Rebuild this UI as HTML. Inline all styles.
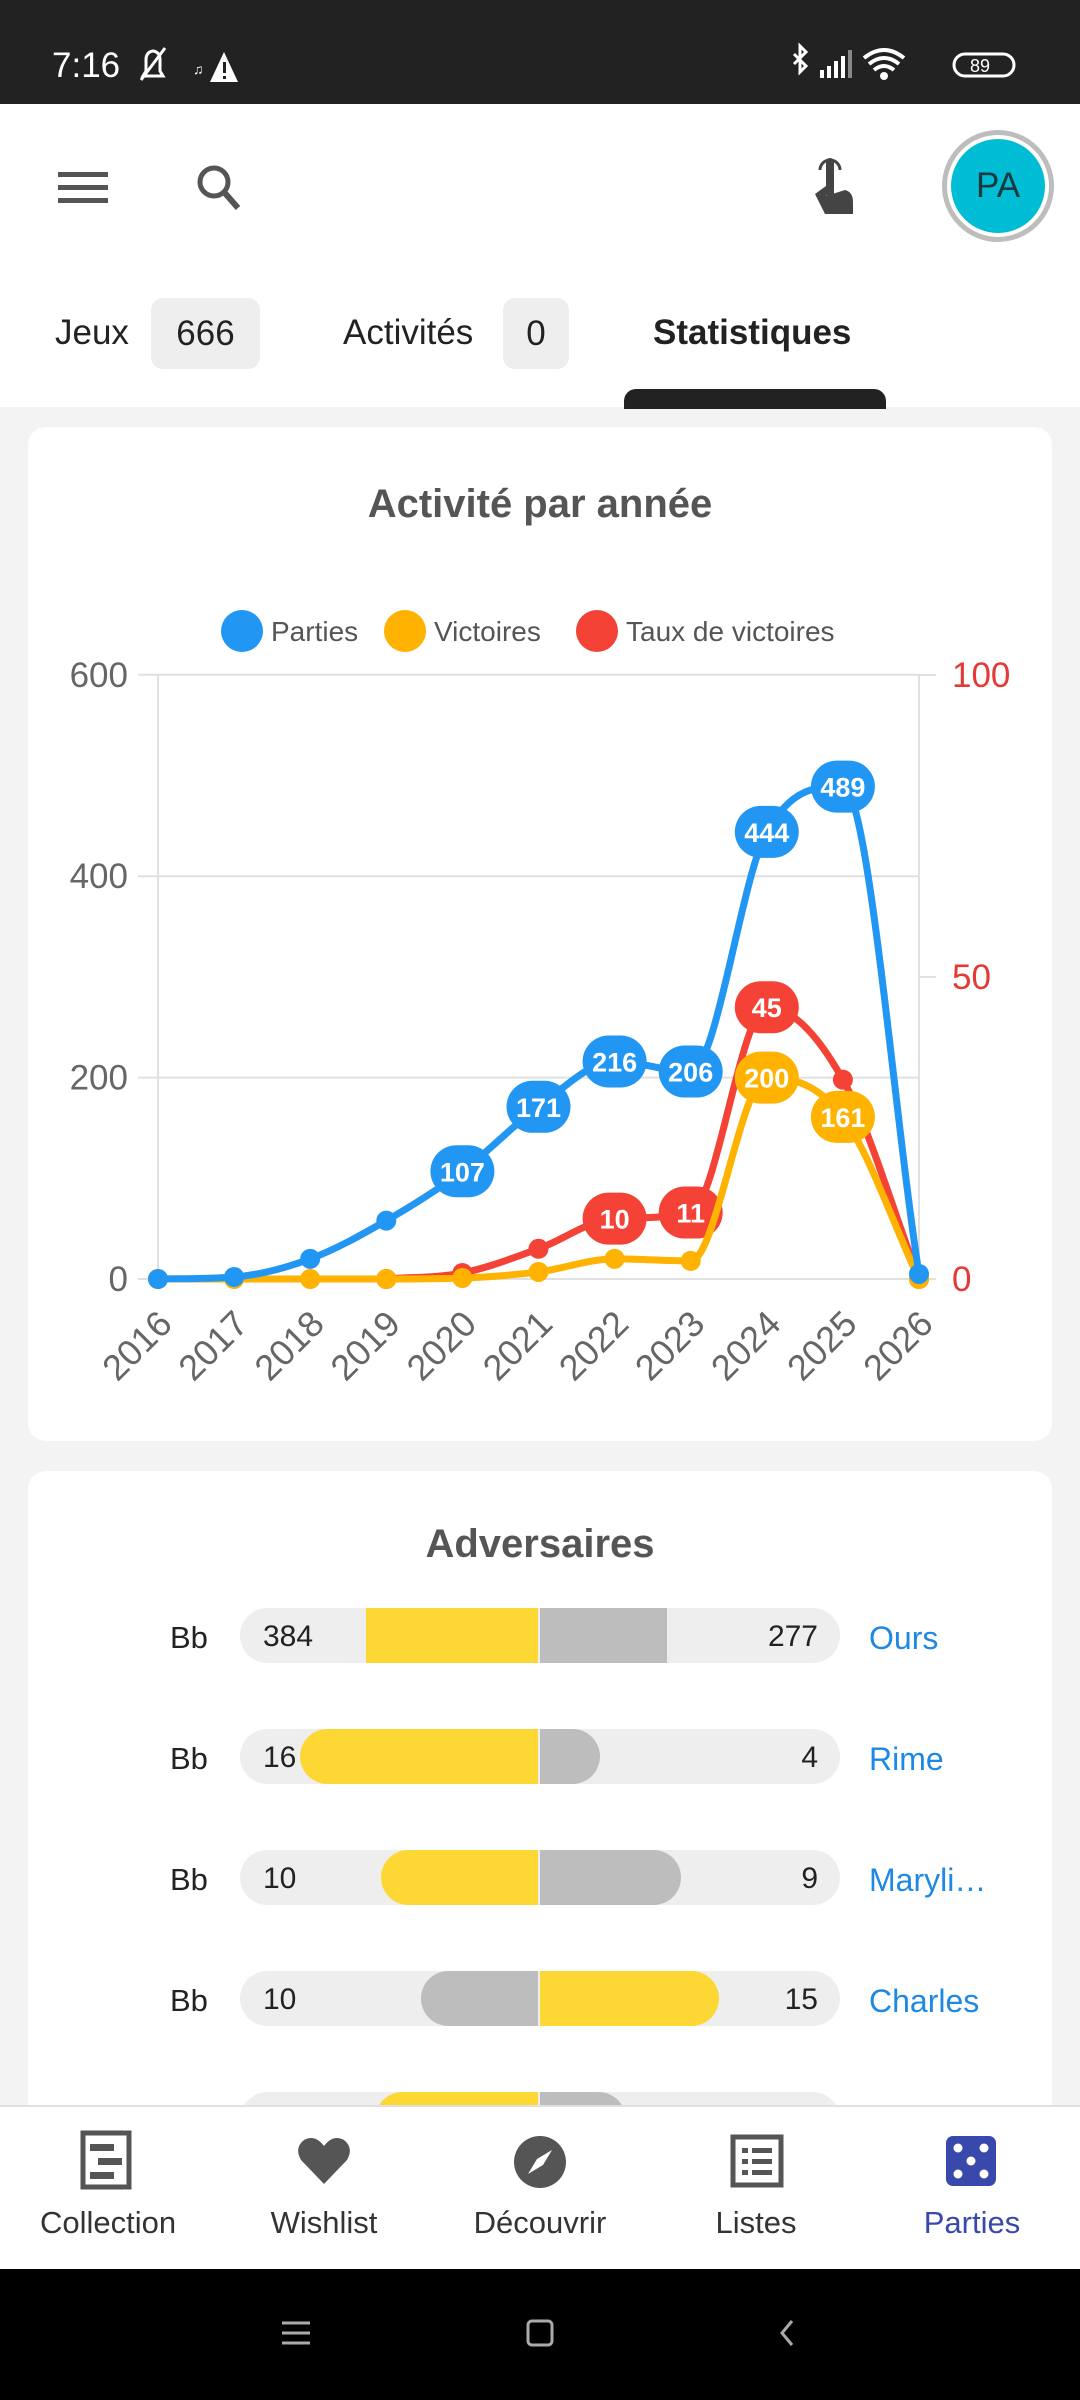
<!DOCTYPE html>
<html><head><meta charset="utf-8">
<style>
*{margin:0;padding:0;box-sizing:border-box}
body{width:1080px;height:2400px;overflow:hidden;background:#f3f3f3;font-family:"Liberation Sans",sans-serif;position:relative}
.abs{position:absolute}
.card{position:absolute;left:28px;width:1024px;background:#fff;border-radius:18px}
.chip{position:absolute;top:298px;height:71px;background:#eee;border-radius:12px;font-size:35px;color:#222;display:flex;align-items:center;justify-content:center}
.tab{position:absolute;top:313px;font-size:35px;color:#222}
.row{position:absolute;left:0;width:1080px;height:55px}
.row .bb{position:absolute;left:170px;top:12px;font-size:31px;color:#222}
.track{position:absolute;left:240px;width:600px;top:0;height:55px;background:#eee;border-radius:28px;overflow:hidden}
.seg{position:absolute;top:0;height:55px}
.y{background:#fdd835}.g{background:#bdbdbd}
.ln{position:absolute;left:263px;top:12px;font-size:30px;color:#222}
.rn{position:absolute;right:262px;top:12px;font-size:30px;color:#222}
.nm{position:absolute;left:869px;top:12px;font-size:32px;color:#1e88e5}
.nav{position:absolute;top:2205px;width:216px;text-align:center;font-size:31px;color:#333}
</style></head><body>
<div class="abs" style="left:0;top:0;width:1080px;height:104px;background:#222"></div>
<div class="abs" style="left:52px;top:46px;font-size:35px;color:#fff">7:16</div>
<svg class="abs" style="left:135px;top:44px" width="120" height="44" viewBox="0 0 120 44">
<path d="M8 32 L28 32 L25 27 L25 16 Q25 8 18 7 Q11 8 11 16 L11 27 Z" fill="none" stroke="#fff" stroke-width="3"/><line x1="6" y1="36" x2="30" y2="4" stroke="#fff" stroke-width="3"/>
<text x="58" y="30" fill="#fff" font-size="14">♫</text>
<path d="M115 38 L101 8 L87 38 Z" fill="#fff" transform="translate(-12,0)"/><rect x="88" y="18" width="3" height="11" fill="#222"/><rect x="88" y="32" width="3" height="3" fill="#222"/>
</svg>
<svg class="abs" style="left:780px;top:42px" width="240" height="44" viewBox="0 0 240 44">
<path d="M14 12 L26 24 L20 30 L20 4 L26 10 L14 22" fill="none" stroke="#fff" stroke-width="3"/>
<rect x="40" y="28" width="4" height="8" fill="#fff"/><rect x="47" y="24" width="4" height="12" fill="#fff"/><rect x="54" y="19" width="4" height="17" fill="#fff"/><rect x="61" y="14" width="4" height="22" fill="#fff"/><rect x="68" y="8" width="4" height="28" fill="#888"/>
<path d="M84 16 Q104 0 124 16 M89 22 Q104 10 119 22 M94 28 Q104 20 114 28" fill="none" stroke="#fff" stroke-width="4"/><circle cx="104" cy="34" r="4" fill="#fff"/>
<rect x="174" y="12" width="60" height="22" rx="11" fill="none" stroke="#fff" stroke-width="3"/><text x="190" y="30" font-size="18" fill="#fff">89</text>
</svg>
<div class="abs" style="left:0;top:104px;width:1080px;height:303px;background:#fff"></div>
<div class="abs" style="left:58px;top:172px;width:50px;height:5px;background:#555"></div>
<div class="abs" style="left:58px;top:185px;width:50px;height:5px;background:#555"></div>
<div class="abs" style="left:58px;top:198px;width:50px;height:5px;background:#555"></div>
<svg class="abs" style="left:192px;top:160px" width="56" height="56"><circle cx="22" cy="22" r="14" fill="none" stroke="#555" stroke-width="5"/><line x1="32" y1="32" x2="46" y2="48" stroke="#555" stroke-width="6"/></svg>
<svg class="abs" style="left:805px;top:150px" width="60" height="70"><rect x="21" y="8" width="8" height="40" rx="4" fill="#444"/><path d="M10 44 L21 36 L21 46 L40 40 Q48 42 48 52 L48 64 L20 64 Z" fill="#444"/><path d="M15 20 A10 10 0 0 1 35 20" fill="none" stroke="#444" stroke-width="3"/></svg>
<div class="abs" style="left:942px;top:130px;width:112px;height:112px;border-radius:50%;border:5px solid #bdbdbd;background:#fff"></div>
<div class="abs" style="left:951px;top:139px;width:94px;height:94px;border-radius:50%;background:#00bcd4;color:#1a3a40;font-size:35px;display:flex;align-items:center;justify-content:center">PA</div>
<div class="tab" style="left:55px">Jeux</div>
<div class="chip" style="left:151px;width:109px">666</div>
<div class="tab" style="left:343px">Activités</div>
<div class="chip" style="left:503px;width:66px">0</div>
<div class="tab" style="left:653px;font-weight:bold">Statistiques</div>
<div class="abs" style="left:624px;top:389px;width:262px;height:20px;background:#222;border-radius:12px 12px 0 0"></div>
<div class="card" style="top:427px;height:1014px"></div>
<div class="abs" style="left:0;width:1080px;top:482px;text-align:center;font-size:40px;font-weight:bold;color:#555">Activité par année</div>
<svg class="abs" id="ch" style="left:0;top:560px" width="1080" height="880"></svg>
<div class="card" style="top:1471px;height:700px"></div>
<div class="abs" style="left:0;width:1080px;top:1522px;text-align:center;font-size:40px;font-weight:bold;color:#555">Adversaires</div>
<div class="row" style="top:1608px"><span class="bb">Bb</span><div class="track"><div class="seg y" style="left:126px;width:172px"></div><div class="seg g" style="left:300px;width:127px"></div></div><span class="ln">384</span><span class="rn">277</span><span class="nm">Ours</span></div>
<div class="row" style="top:1729px"><span class="bb">Bb</span><div class="track"><div class="seg y" style="left:60px;width:238px;border-radius:28px 0 0 28px"></div><div class="seg g" style="left:300px;width:60px;border-radius:0 28px 28px 0"></div></div><span class="ln">16</span><span class="rn">4</span><span class="nm">Rime</span></div>
<div class="row" style="top:1850px"><span class="bb">Bb</span><div class="track"><div class="seg y" style="left:141px;width:157px;border-radius:28px 0 0 28px"></div><div class="seg g" style="left:300px;width:141px;border-radius:0 28px 28px 0"></div></div><span class="ln">10</span><span class="rn">9</span><span class="nm">Maryli…</span></div>
<div class="row" style="top:1971px"><span class="bb">Bb</span><div class="track"><div class="seg g" style="left:181px;width:117px;border-radius:28px 0 0 28px"></div><div class="seg y" style="left:300px;width:179px;border-radius:0 28px 28px 0"></div></div><span class="ln">10</span><span class="rn">15</span><span class="nm">Charles</span></div>
<div class="row" style="top:2092px"><div class="track"><div class="seg y" style="left:135px;width:163px;border-radius:28px 0 0 28px"></div><div class="seg g" style="left:300px;width:86px;border-radius:0 28px 28px 0"></div></div></div>
<div class="abs" style="left:0;top:2105px;width:1080px;height:164px;background:#fff;border-top:2px solid #e0e0e0"></div>
<svg class="abs" style="left:80px;top:2130px" width="54" height="60"><rect x="3" y="3" width="46" height="54" fill="none" stroke="#555" stroke-width="5"/><rect x="10" y="14" width="24" height="7" fill="#555"/><rect x="18" y="28" width="24" height="7" fill="#555"/><rect x="10" y="42" width="24" height="7" fill="#555"/></svg>
<svg class="abs" style="left:296px;top:2134px" width="56" height="52"><path d="M28 50 L5 26 Q-2 14 8 6 Q19 0 28 12 Q37 0 48 6 Q58 14 51 26 Z" fill="#555"/></svg>
<svg class="abs" style="left:512px;top:2134px" width="56" height="56"><circle cx="28" cy="28" r="26" fill="#555"/><path d="M40 16 L31 31 L25 25 Z M16 40 L25 25 L31 31 Z" fill="#fff"/></svg>
<svg class="abs" style="left:730px;top:2134px" width="54" height="54"><rect x="3" y="3" width="48" height="48" fill="none" stroke="#555" stroke-width="5"/><rect x="12" y="14" width="6" height="5" fill="#555"/><rect x="22" y="14" width="20" height="5" fill="#555"/><rect x="12" y="25" width="6" height="5" fill="#555"/><rect x="22" y="25" width="20" height="5" fill="#555"/><rect x="12" y="36" width="6" height="5" fill="#555"/><rect x="22" y="36" width="20" height="5" fill="#555"/></svg>
<svg class="abs" style="left:944px;top:2134px" width="54" height="54"><rect x="2" y="2" width="50" height="50" rx="7" fill="#3949ab"/><g fill="#fff"><circle cx="14" cy="14" r="4.5"/><circle cx="40" cy="14" r="4.5"/><circle cx="27" cy="27" r="4.5"/><circle cx="14" cy="40" r="4.5"/><circle cx="40" cy="40" r="4.5"/></g></svg>
<div class="nav" style="left:0">Collection</div>
<div class="nav" style="left:216px">Wishlist</div>
<div class="nav" style="left:432px">Découvrir</div>
<div class="nav" style="left:648px">Listes</div>
<div class="nav" style="left:864px;color:#3949ab">Parties</div>
<div class="abs" style="left:0;top:2269px;width:1080px;height:131px;background:#000"></div>
<svg class="abs" style="left:270px;top:2315px" width="540" height="40"><g stroke="#aaa" stroke-width="3" fill="none"><line x1="12" y1="8" x2="40" y2="8"/><line x1="12" y1="18" x2="40" y2="18"/><line x1="12" y1="28" x2="40" y2="28"/><rect x="258" y="6" width="24" height="24" rx="4"/><path d="M522 6 L512 18 L522 30"/></g></svg>
<script>
const svg=document.getElementById('ch'),oy=560;
const X=i=>158+i*76.1, YL=v=>1279-v*1.007-oy, YR=v=>1279-v*6.04-oy;
let h='';
const t=(x,y,s,a)=>`<text x="${x}" y="${y}" ${a}>${s}</text>`;
[0,200,400,600].forEach(v=>{h+=`<line x1="138" x2="919" y1="${YL(v)}" y2="${YL(v)}" stroke="#e0e0e0" stroke-width="2"/>`;h+=t(128,YL(v)+12,v,'text-anchor="end" font-size="35" fill="#666"');});
[0,50,100].forEach(v=>{h+=`<line x1="919" x2="936" y1="${YR(v)}" y2="${YR(v)}" stroke="#e0e0e0" stroke-width="2"/>`;h+=t(952,YR(v)+12,v,'font-size="35" fill="#e53935"');});
h+=`<line x1="158" x2="158" y1="${YL(600)}" y2="${YL(0)+10}" stroke="#e0e0e0" stroke-width="2"/><line x1="919" x2="919" y1="${YL(600)}" y2="${YL(0)+10}" stroke="#e0e0e0" stroke-width="2"/>`;
for(let i=0;i<=10;i++){const x=X(i)+16,y=1326-oy;h+=`<text transform="translate(${x},${y}) rotate(-45)" text-anchor="end" font-size="36" fill="#666">${2016+i}</text>`;}
[[242,'#2196f3','Parties'],[405,'#ffb300','Victoires'],[597,'#f44336','Taux de victoires']].forEach(([x,c,s])=>{h+=`<circle cx="${x}" cy="${631-oy}" r="21" fill="${c}"/>`;h+=t(x+29,641-oy,s,'font-size="28" fill="#555"');});
function mono(pts){const n=pts.length,d=[],m=[];for(let i=0;i<n-1;i++)d.push((pts[i+1][1]-pts[i][1])/(pts[i+1][0]-pts[i][0]));
m[0]=d[0];m[n-1]=d[n-2];for(let i=1;i<n-1;i++)m[i]=d[i-1]*d[i]<=0?0:(d[i-1]+d[i])/2;
for(let i=0;i<n-1;i++){if(d[i]==0){m[i]=m[i+1]=0;continue}const a=m[i]/d[i],b=m[i+1]/d[i],s=a*a+b*b;if(s>9){const k=3/Math.sqrt(s);m[i]=k*a*d[i];m[i+1]=k*b*d[i];}}
let p=`M${pts[0][0]},${pts[0][1]}`;for(let i=0;i<n-1;i++){const dx=(pts[i+1][0]-pts[i][0])/3;p+=` C${pts[i][0]+dx},${pts[i][1]+m[i]*dx} ${pts[i+1][0]-dx},${pts[i+1][1]-m[i+1]*dx} ${pts[i+1][0]},${pts[i+1][1]}`;}return p;}
function series(vals,f,c,lab,start){const pts=vals.map((v,i)=>[X(i+start),f(v)]);let s=`<path d="${mono(pts)}" fill="none" stroke="${c}" stroke-width="7"/>`;
pts.forEach((p,i)=>{const v=vals[i];if(lab(v,i)){s+=`<rect x="${p[0]-32}" y="${p[1]-26}" width="64" height="52" rx="26" fill="${c}"/>`+t(p[0],p[1]+10,v,'text-anchor="middle" font-size="27" font-weight="bold" fill="#fff"');}else s+=`<circle cx="${p[0]}" cy="${p[1]}" r="10" fill="${c}"/>`;});return s;}
h+=series([0,1,5,10,11,45,33,0],YR,'#f44336',(v,i)=>i>=3&&i<=5,3);
h+=series([0,0,0,0,1,7,20,18,200,161,0],YL,'#ffb300',v=>v>=100,0);
h+=series([0,2,20,58,107,171,216,206,444,489,5],YL,'#2196f3',v=>v>=100,0);
svg.innerHTML=h;
</script>
</body></html>
